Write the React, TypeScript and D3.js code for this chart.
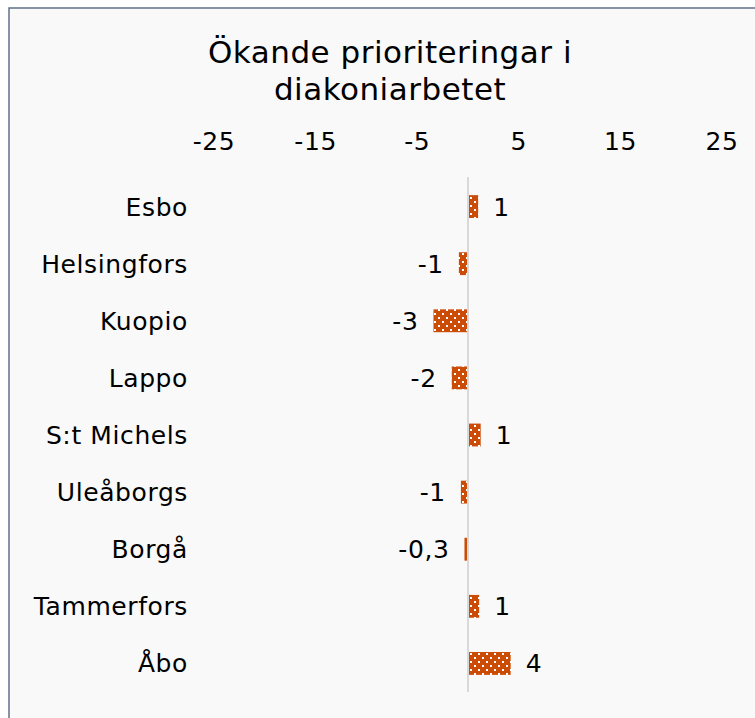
import React from "react";
import * as d3 from "d3";

const categories = ["Esbo", "Helsingfors", "Kuopio", "Lappo", "S:t Michels", "Uleåborgs", "Borgå", "Tammerfors", "Åbo"];
const values = [0.9, -0.8, -3.3, -1.5, 1.15, -0.6, -0.25, 1.0, 4.1];
const valueLabels = ["1", "-1", "-3", "-2", "1", "-1", "-0,3", "1", "4"];
const ticks = [-25, -15, -5, 5, 15, 25];
const titleLines = ["Ökande prioriteringar i", "diakoniarbetet"];

const W = 755;
const H = 718;
const FONT = "'DejaVu Sans', Verdana, sans-serif";
const BAR = "#ca4c06";
const FS = 25;
const LS = 0.6;

export default function App() {
  const x = d3.scaleLinear().domain([-25, 25]).range([214, 722]);
  const y = d3
    .scaleBand<string>()
    .domain(categories)
    .range([178, 692])
    .paddingInner(0.6)
    .paddingOuter(0.3);
  const bw = y.bandwidth();
  const x0 = x(0);

  return (
    <svg
      width={W}
      height={H}
      style={{ position: "absolute", left: 0, top: 0, background: "#ffffff" }}
      fontFamily={FONT}
    >
      <defs>
        <pattern id="dots" x={1} y={0} width={8} height={8} patternUnits="userSpaceOnUse">
          <rect width={8} height={8} fill={BAR} />
          <rect x={1} y={1} width={2} height={2} fill="#ffffff" />
          <rect x={5} y={5} width={2} height={2} fill="#ffffff" />
        </pattern>
      </defs>
      <rect x={9} y={8} width={W} height={H} fill="#f9f9f9" stroke="#62708a" strokeWidth={1.5} />

      {titleLines.map((t, i) => (
        <text key={t} x={390} y={63 + i * 37} textAnchor="middle" fontSize={31} letterSpacing={0.5} fill="#000">
          {t}
        </text>
      ))}

      {ticks.map((t) => (
        <text key={t} x={x(t)} y={150} textAnchor="middle" fontSize={FS} letterSpacing={LS} fill="#000">
          {t}
        </text>
      ))}

      {categories.map((c, i) => {
        const v = values[i];
        const yc = (y(c) as number) + bw / 2;
        const bwid = Math.max(Math.abs(x(v) - x0), 2);
        const bx = v >= 0 ? x0 + 1 : x0 - 1 - bwid;
        return (
          <g key={c}>
            <text x={188} y={yc} dy="0.36em" textAnchor="end" fontSize={FS} letterSpacing={LS} fill="#000">
              {c}
            </text>
            <rect
              x={bx}
              y={y(c)}
              width={bwid}
              height={bw}
              fill={bwid < 4 ? BAR : "url(#dots)"}
            />
            <text
              x={v >= 0 ? x(v) + 16 : x(v) - 16}
              y={yc}
              dy="0.36em"
              textAnchor={v >= 0 ? "start" : "end"}
              fontSize={FS}
              letterSpacing={LS}
              fill="#000"
            >
              {valueLabels[i]}
            </text>
          </g>
        );
      })}

      <line x1={x0} x2={x0} y1={177} y2={692} stroke="#d9d9d9" strokeWidth={2} />
    </svg>
  );
}
